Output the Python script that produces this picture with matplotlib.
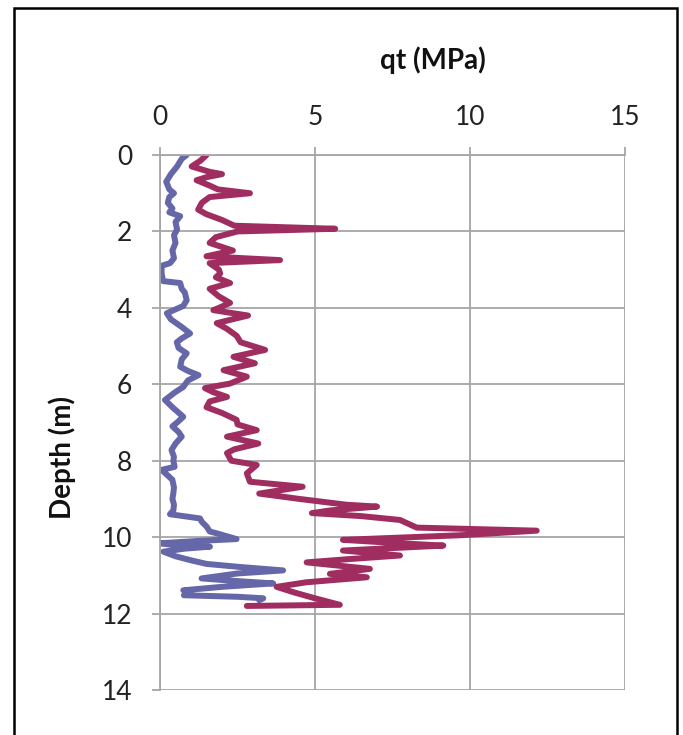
import matplotlib
matplotlib.use("Agg")
import matplotlib.pyplot as plt
from matplotlib.patches import Rectangle

# CPT profile 1 (blue): depth (m), qt (MPa)
depth_a = [0.0, 0.1, 0.3, 0.5, 0.7, 0.9, 1.0, 1.1, 1.25, 1.4, 1.5, 1.6, 1.75, 1.95,
           2.1, 2.3, 2.5, 2.7, 2.83, 2.9, 3.1, 3.3, 3.35, 3.5, 3.6, 3.8, 3.95, 4.14,
           4.3, 4.5, 4.67, 4.8, 4.9, 5.05, 5.19, 5.35, 5.54, 5.65, 5.76, 5.9, 6.07,
           6.2, 6.41, 6.6, 6.85, 7.0, 7.1, 7.25, 7.37, 7.55, 7.72, 7.9, 8.0, 8.16,
           8.24, 8.35, 8.5, 8.7, 8.85, 9.0, 9.15, 9.3, 9.4, 9.51, 9.6, 9.73, 9.85,
           9.9, 10.05, 10.1, 10.16, 10.22, 10.25, 10.3, 10.38, 10.5, 10.6, 10.7,
           10.78, 10.87, 10.95, 11.08, 11.15, 11.21, 11.3, 11.39, 11.45, 11.52,
           11.56, 11.6, 11.65]
qt_a = [0.86, 0.7, 0.55, 0.35, 0.2, 0.3, 0.45, 0.3, 0.25, 0.4, 0.3, 0.65, 0.5, 0.55,
        0.45, 0.5, 0.4, 0.45, 0.32, 0.05, 0.05, 0.1, 0.65, 0.7, 0.8, 0.86, 0.75, 0.22,
        0.35, 0.7, 0.97, 0.7, 0.54, 0.6, 0.86, 0.7, 0.65, 0.9, 1.24, 0.9, 0.75,
        0.5, 0.16, 0.4, 0.75, 0.55, 0.4, 0.6, 0.7, 0.5, 0.37, 0.45, 0.43, 0.47,
        0.05, 0.2, 0.4, 0.45, 0.43, 0.4, 0.45, 0.43, 0.32, 1.29, 1.35, 1.51, 1.6,
        1.83, 2.47, 1.2, 0.0, 0.6, 1.61, 0.8, 0.11, 0.5, 0.97, 1.5,
        2.58, 3.97, 2.5, 1.34, 2.5, 3.65, 2.0, 0.75, 1.0, 0.77,
        2.5, 3.33, 3.2]

# CPT profile 2 (maroon)
depth_b = [0.0, 0.15, 0.3, 0.44, 0.5, 0.58, 0.66, 0.8, 0.9, 1.0, 1.1, 1.25, 1.43,
           1.55, 1.7, 1.85, 1.93, 2.0, 2.15, 2.3, 2.5, 2.65, 2.75, 2.83, 3.0, 3.1,
           3.2, 3.35, 3.5, 3.7, 3.87, 4.0, 4.06, 4.2, 4.4, 4.55, 4.73, 4.9, 5.1,
           5.28, 5.45, 5.63, 5.8, 5.98, 6.1, 6.2, 6.33, 6.45, 6.6, 6.75, 6.93, 7.05,
           7.2, 7.37, 7.55, 7.7, 7.8, 8.0, 8.11, 8.33, 8.55, 8.68, 8.86, 9.0, 9.15,
           9.2, 9.3, 9.37, 9.45, 9.55, 9.75, 9.83, 9.95, 10.07, 10.15, 10.22, 10.35,
           10.48, 10.58, 10.66, 10.83, 10.96, 11.05, 11.18, 11.3, 11.44, 11.6,
           11.77, 11.8]
qt_b = [1.5, 1.3, 1.02, 1.6, 2.0, 1.5, 1.18, 1.6, 1.87, 2.9, 1.6, 1.35, 1.23,
        1.5, 2.0, 2.4, 5.65, 2.5, 1.8, 1.6, 2.35, 1.5, 3.87, 1.6, 1.9, 1.94,
        1.8, 2.26, 1.6, 1.9, 2.26, 1.9, 1.72, 2.84, 1.83, 2.16, 2.47, 2.6, 3.39,
        2.37, 3.06, 2.05, 2.8, 2.26, 1.45, 1.7, 2.16, 1.6, 1.5, 2.0, 2.47, 2.5,
        3.12, 2.16, 3.17, 2.4, 2.16, 2.3, 3.12, 2.8, 2.9, 4.6, 3.2, 4.5, 6.0,
        7.0, 5.5, 4.9, 6.5, 7.74, 8.28, 12.15, 9.68, 5.9, 7.5, 9.14, 5.9,
        7.74, 6.0, 4.73, 6.77, 5.48, 6.67, 4.73, 3.76, 4.3, 5.0,
        5.8, 2.8]

x_ticks = [0, 5, 10, 15]
y_ticks = [0, 2, 4, 6, 8, 10, 12, 14]


def main():
    plt.rcParams["font.family"] = ["Lato", "DejaVu Sans"]
    fig = plt.figure(figsize=(6.83, 7.35), dpi=100)
    ax = fig.add_axes([0.2343, 0.0612, 0.6808, 0.7279])

    ax.plot(qt_a, depth_a, color="#6567A9", lw=4.3, solid_joinstyle="round",
            solid_capstyle="round")
    ax.plot(qt_b, depth_b, color="#A02D5F", lw=4.3, solid_joinstyle="round",
            solid_capstyle="round")

    ax.set_xlim(0, 15)
    ax.set_ylim(14, 0)
    ax.set_xticks(x_ticks)
    ax.set_yticks(y_ticks)
    ax.xaxis.tick_top()
    ax.grid(True, color="#A6A6A6", lw=1.3)
    ax.set_axisbelow(True)
    for s in ["right", "bottom"]:
        ax.spines[s].set_visible(False)
    for s in ["top", "left"]:
        ax.spines[s].set_color("#A6A6A6")
        ax.spines[s].set_linewidth(1.3)
    ax.tick_params(axis="both", direction="out", length=6, width=1.3,
                   color="#A6A6A6", labelsize=19, labelcolor="#222222")
    ax.tick_params(axis="x", pad=12)
    ax.tick_params(axis="y", pad=14)

    fig.text(0.634, 0.918, "qt (MPa)", fontsize=20, fontweight="bold",
             ha="center", va="center", color="#111111")
    fig.text(0.091, 0.377, "Depth (m)", fontsize=20, fontweight="bold",
             ha="center", va="center", rotation=90, color="#111111")

    # frame around the chart (bottom edge cut off in the original)
    fig.patches.append(Rectangle((14 / 683, -0.05), (677 - 14) / 683, 1.05 - 8 / 735,
                                 transform=fig.transFigure, fill=False,
                                 ec="black", lw=1.8))

    fig.savefig("out.png", dpi=100)
    plt.close()


if __name__ == "__main__":
    main()
